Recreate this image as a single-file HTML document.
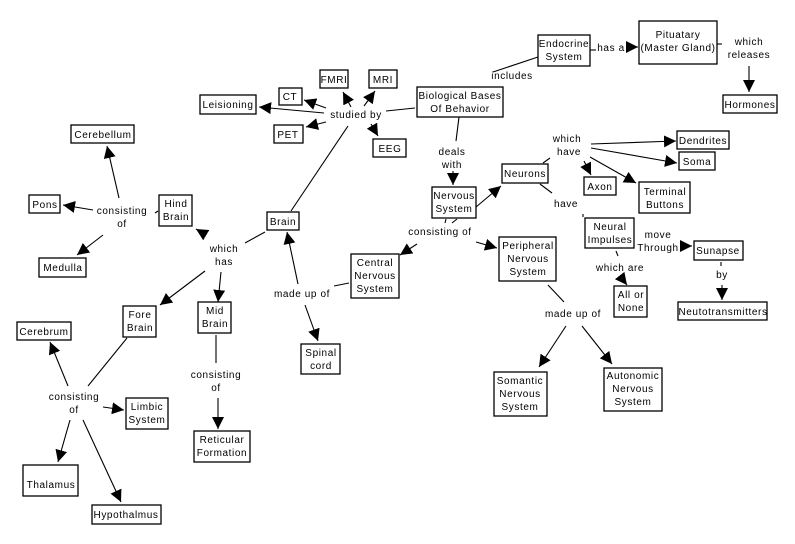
<!DOCTYPE html>
<html><head><meta charset="utf-8">
<style>
html,body{margin:0;padding:0;background:#fff;}
svg{display:block;}
text{font-family:"Liberation Sans",sans-serif;font-size:10px;letter-spacing:0.6px;fill:#000;text-anchor:middle;}
rect{fill:#fff;stroke:#000;stroke-width:1.3;}
line{stroke:#000;stroke-width:1.1;}
</style></head>
<body>
<svg width="795" height="544" viewBox="0 0 795 544" xmlns="http://www.w3.org/2000/svg">
<defs>
<marker id="a" markerUnits="userSpaceOnUse" markerWidth="14" markerHeight="12" refX="12" refY="6" orient="auto">
<path d="M0,0 L12,6 L0,12 z" fill="#000"/>
</marker>
</defs>

<!-- connectors -->
<g>
<!-- top -->
<line x1="493" y1="72" x2="538" y2="57"/>
<line x1="590" y1="50" x2="596" y2="50"/>
<line x1="627" y1="47" x2="638" y2="47" marker-end="url(#a)"/>
<line x1="717" y1="44" x2="722" y2="44"/>
<line x1="749" y1="66" x2="749" y2="92" marker-end="url(#a)"/>
<!-- studied by -->
<line x1="415" y1="108" x2="386" y2="111"/>
<line x1="324" y1="113" x2="259" y2="107" marker-end="url(#a)"/>
<line x1="326" y1="108" x2="304" y2="100" marker-end="url(#a)"/>
<line x1="326" y1="122" x2="306" y2="127" marker-end="url(#a)"/>
<line x1="351" y1="107" x2="343" y2="92" marker-end="url(#a)"/>
<line x1="364" y1="106" x2="375" y2="91" marker-end="url(#a)"/>
<line x1="371" y1="124" x2="378" y2="136" marker-end="url(#a)"/>
<line x1="348" y1="126" x2="291" y2="211"/>
<!-- deals with -->
<line x1="459" y1="117" x2="456" y2="141"/>
<line x1="453" y1="171" x2="453" y2="185" marker-end="url(#a)"/>
<line x1="476" y1="207" x2="501" y2="186" marker-end="url(#a)"/>
<!-- neurons -->
<line x1="543" y1="163" x2="550" y2="158"/>
<line x1="591" y1="144" x2="676" y2="141" marker-end="url(#a)"/>
<line x1="591" y1="148" x2="677" y2="163" marker-end="url(#a)"/>
<line x1="590" y1="157" x2="636" y2="183" marker-end="url(#a)"/>
<line x1="584" y1="161" x2="591" y2="175" marker-end="url(#a)"/>
<line x1="540" y1="184" x2="552" y2="193"/>
<line x1="583" y1="214" x2="583" y2="217"/>
<!-- neural impulses -->
<line x1="616" y1="251" x2="618" y2="256"/>
<line x1="620" y1="276" x2="627" y2="285" marker-end="url(#a)"/>
<line x1="682" y1="246" x2="692" y2="246" marker-end="url(#a)"/>
<line x1="721" y1="262" x2="721" y2="266"/>
<line x1="722" y1="285" x2="722" y2="300" marker-end="url(#a)"/>
<!-- nervous system consisting of -->
<line x1="446" y1="219" x2="445" y2="223"/>
<line x1="457" y1="219" x2="452" y2="223"/>
<line x1="417" y1="244" x2="400" y2="255" marker-end="url(#a)"/>
<line x1="476" y1="242" x2="497" y2="248" marker-end="url(#a)"/>
<!-- peripheral -->
<line x1="548" y1="285" x2="564" y2="302"/>
<line x1="566" y1="326" x2="539" y2="367" marker-end="url(#a)"/>
<line x1="582" y1="326" x2="612" y2="364" marker-end="url(#a)"/>
<!-- central / spinal -->
<line x1="349" y1="283" x2="334" y2="286"/>
<line x1="298" y1="284" x2="287" y2="232" marker-end="url(#a)"/>
<line x1="305" y1="305" x2="318" y2="341" marker-end="url(#a)"/>
<!-- brain which has -->
<line x1="265" y1="232" x2="245" y2="243"/>
<line x1="206" y1="235" x2="196" y2="229" marker-end="url(#a)"/>
<line x1="205" y1="271" x2="160" y2="305" marker-end="url(#a)"/>
<line x1="221" y1="272" x2="218" y2="302" marker-end="url(#a)"/>
<!-- hind brain -->
<line x1="155" y1="213" x2="158" y2="211"/>
<line x1="119" y1="198" x2="107" y2="146" marker-end="url(#a)"/>
<line x1="93" y1="210" x2="63" y2="205" marker-end="url(#a)"/>
<line x1="103" y1="235" x2="77" y2="255" marker-end="url(#a)"/>
<!-- mid brain -->
<line x1="216" y1="335" x2="216" y2="363"/>
<line x1="218" y1="398" x2="218" y2="429" marker-end="url(#a)"/>
<!-- fore brain -->
<line x1="127" y1="338" x2="88" y2="386"/>
<line x1="68" y1="386" x2="50" y2="342" marker-end="url(#a)"/>
<line x1="103" y1="407" x2="124" y2="410" marker-end="url(#a)"/>
<line x1="70" y1="420" x2="58" y2="462" marker-end="url(#a)"/>
<line x1="83" y1="420" x2="121" y2="502" marker-end="url(#a)"/>
</g>

<!-- boxes -->
<g>
<rect x="538" y="35" width="52" height="31"/>
<rect x="639" y="21" width="78" height="43"/>
<rect x="723" y="95" width="54" height="18"/>
<rect x="417" y="87" width="86" height="30"/>
<rect x="320" y="70" width="28" height="18"/>
<rect x="369" y="70" width="28" height="18"/>
<rect x="279" y="88" width="23" height="17"/>
<rect x="200" y="95" width="56" height="19"/>
<rect x="274" y="125" width="29" height="18"/>
<rect x="373" y="139" width="33" height="18"/>
<rect x="432" y="187" width="44" height="31"/>
<rect x="502" y="164" width="46" height="19"/>
<rect x="267" y="212" width="32" height="18"/>
<rect x="677" y="131" width="52" height="18"/>
<rect x="679" y="152" width="36" height="18"/>
<rect x="584" y="177" width="32" height="18"/>
<rect x="639" y="182" width="51" height="31"/>
<rect x="585" y="218" width="49" height="30"/>
<rect x="694" y="241" width="49" height="19"/>
<rect x="614" y="286" width="33" height="31"/>
<rect x="678" y="302" width="89" height="18"/>
<rect x="499" y="237" width="57" height="44"/>
<rect x="351" y="254" width="48" height="44"/>
<rect x="301" y="344" width="39" height="30"/>
<rect x="159" y="195" width="33" height="31"/>
<rect x="71" y="125" width="63" height="18"/>
<rect x="29" y="195" width="31" height="18"/>
<rect x="39" y="258" width="47" height="19"/>
<rect x="123" y="306" width="33" height="31"/>
<rect x="198" y="302" width="33" height="31"/>
<rect x="17" y="322" width="54" height="18"/>
<rect x="126" y="398" width="42" height="31"/>
<rect x="194" y="431" width="56" height="31"/>
<rect x="23" y="465" width="55" height="31"/>
<rect x="92" y="505" width="69" height="19"/>
<rect x="494" y="372" width="53" height="44"/>
<rect x="604" y="368" width="58" height="43"/>
</g>

<!-- box text -->
<g>
<text x="564" y="47">Endocrine</text><text x="564" y="60">System</text>
<text x="678" y="38">Pituatary</text><text x="678" y="51">(Master Gland)</text>
<text x="750" y="108">Hormones</text>
<text x="460" y="99">Biological Bases</text><text x="460" y="112">Of Behavior</text>
<text x="334" y="83">FMRI</text>
<text x="383" y="83">MRI</text>
<text x="290" y="100">CT</text>
<text x="228" y="108">Leisioning</text>
<text x="288" y="138">PET</text>
<text x="390" y="152">EEG</text>
<text x="454" y="199">Nervous</text><text x="454" y="212">System</text>
<text x="525" y="177">Neurons</text>
<text x="283" y="225">Brain</text>
<text x="703" y="144">Dendrites</text>
<text x="697" y="165">Soma</text>
<text x="600" y="190">Axon</text>
<text x="665" y="195">Terminal</text><text x="665" y="208">Buttons</text>
<text x="610" y="230">Neural</text><text x="610" y="243">Impulses</text>
<text x="718" y="254">Sunapse</text>
<text x="631" y="298">All or</text><text x="631" y="311">None</text>
<text x="723" y="315">Neutotransmitters</text>
<text x="528" y="249">Peripheral</text><text x="528" y="262">Nervous</text><text x="528" y="275">System</text>
<text x="375" y="266">Central</text><text x="375" y="279">Nervous</text><text x="375" y="292">System</text>
<text x="321" y="356">Spinal</text><text x="321" y="369">cord</text>
<text x="176" y="207">Hind</text><text x="176" y="220">Brain</text>
<text x="103" y="138">Cerebellum</text>
<text x="45" y="208">Pons</text>
<text x="63" y="271">Medulla</text>
<text x="140" y="318">Fore</text><text x="140" y="331">Brain</text>
<text x="215" y="314">Mid</text><text x="215" y="327">Brain</text>
<text x="44" y="335">Cerebrum</text>
<text x="147" y="410">Limbic</text><text x="147" y="423">System</text>
<text x="222" y="443">Reticular</text><text x="222" y="456">Formation</text>
<text x="51" y="488">Thalamus</text>
<text x="126" y="518">Hypothalmus</text>
<text x="520" y="384">Somantic</text><text x="520" y="397">Nervous</text><text x="520" y="410">System</text>
<text x="633" y="379">Autonomic</text><text x="633" y="392">Nervous</text><text x="633" y="405">System</text>
</g>

<!-- link labels -->
<g>
<text x="611" y="51">has a</text>
<text x="749" y="45">which</text><text x="749" y="58">releases</text>
<text x="512" y="79">includes</text>
<text x="356" y="118">studied by</text>
<text x="452" y="155">deals</text><text x="452" y="168">with</text>
<text x="567" y="142">which</text><text x="569" y="155">have</text>
<text x="566" y="207">have</text>
<text x="440" y="235">consisting of</text>
<text x="658" y="238">move</text><text x="658" y="251">Through</text>
<text x="620" y="271">which are</text>
<text x="722" y="278">by</text>
<text x="573" y="317">made up of</text>
<text x="302" y="297">made up of</text>
<text x="224" y="252">which</text><text x="224" y="265">has</text>
<text x="122" y="214">consisting</text><text x="122" y="227">of</text>
<text x="216" y="378">consisting</text><text x="216" y="391">of</text>
<text x="74" y="400">consisting</text><text x="74" y="413">of</text>
</g>
</svg>
</body></html>
